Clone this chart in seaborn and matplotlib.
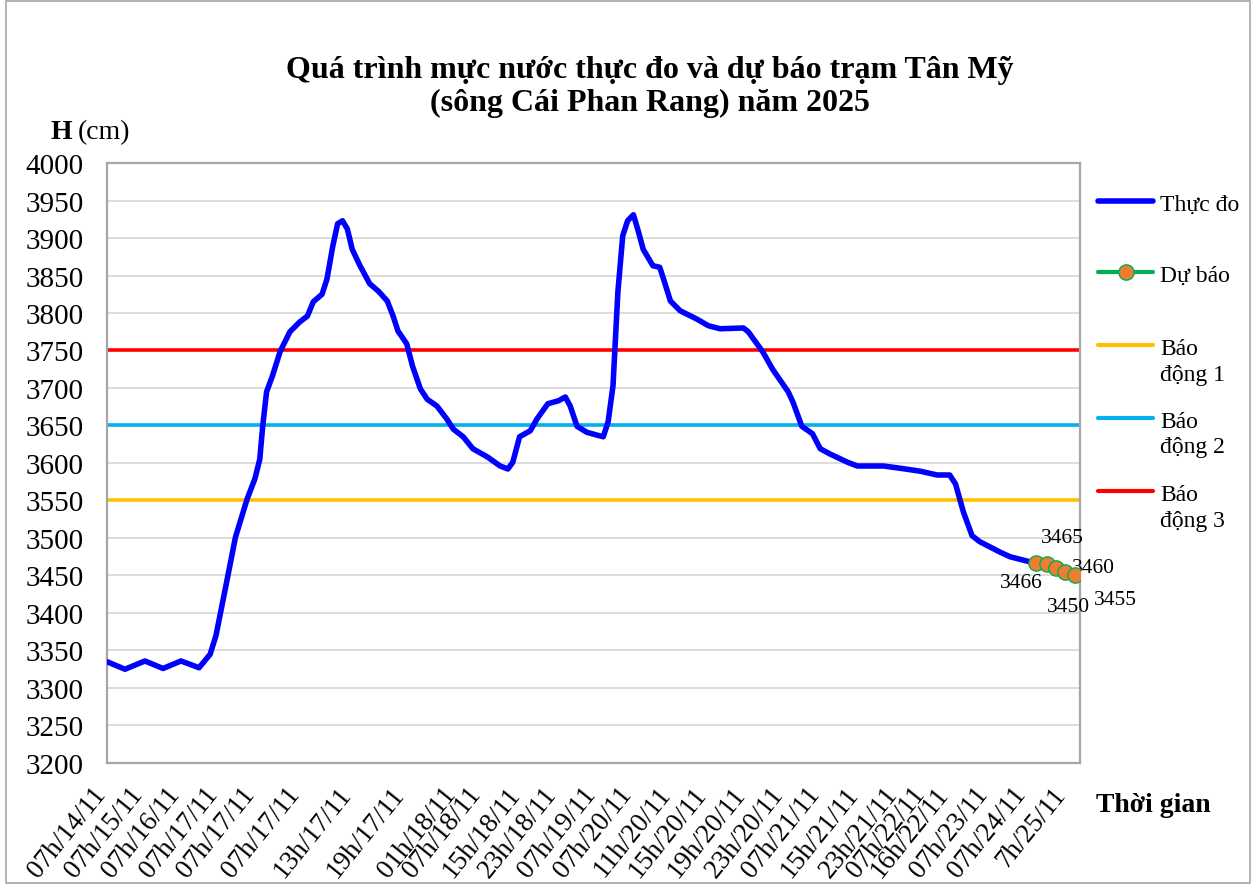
import numpy as np
import pandas as pd
import matplotlib.pyplot as plt
import seaborn as sns
from matplotlib.lines import Line2D
from matplotlib.patches import Rectangle

# vi tri tren truc (don vi 0..100, truc thoi gian dang category)
t_obs = [0, 1.85, 3.9, 5.76, 7.6, 9.46, 10.6, 11.2, 12.2, 13.2, 14.4, 15.2, 15.7, 16.0, 16.4,
         17.0, 17.8, 18.8, 19.8, 20.6, 21.2, 22.1, 22.6, 23.2, 23.7, 24.2, 24.7, 25.2, 26.0,
         27.0, 27.9, 28.8, 29.4, 29.9, 30.8, 31.4, 32.2, 32.9, 33.9, 34.9, 35.6, 36.6, 37.6,
         39.1, 40.4, 41.2, 41.7, 42.4, 43.5, 44.2, 45.3, 46.4, 47.1, 47.6, 48.3, 49.3, 50.4,
         51.0, 51.5, 52.0, 52.5, 53.0, 53.5, 54.1, 54.6, 55.1, 56.1, 56.8, 57.3, 57.9, 58.9,
         60.6, 61.8, 63.0, 65.4, 65.9, 67.4, 68.4, 70.0, 70.5, 71.4, 72.5, 73.3, 74.3, 76.1,
         77.1, 79.8, 81.5, 83.6, 85.3, 86.6, 87.2, 88.0, 88.9, 89.7, 91.8, 92.8, 94.9, 95.5]
h_obs = [3335, 3325, 3336, 3326, 3336, 3327, 3345, 3370, 3435, 3501, 3552, 3579, 3605, 3649, 3695,
         3716, 3749, 3775, 3788, 3796, 3815, 3825, 3845, 3889, 3919, 3923, 3912, 3885, 3863,
         3839, 3829, 3816, 3796, 3776, 3759, 3729, 3699, 3685, 3676, 3659, 3645, 3635, 3619,
         3608, 3596, 3592, 3601, 3635, 3643, 3659, 3679, 3683, 3688, 3676, 3649, 3641, 3637,
         3635, 3655, 3703, 3828, 3903, 3923, 3931, 3909, 3885, 3863, 3861, 3841, 3816, 3803,
         3792, 3783, 3779, 3780, 3775, 3748, 3725, 3695, 3681, 3649, 3639, 3619, 3612, 3601,
         3596, 3596, 3593, 3589, 3584, 3584, 3572, 3535, 3503, 3495, 3481, 3475, 3468, 3466]

t_fc = [95.5, 96.6, 97.5, 98.5, 99.5]
h_fc = [3466, 3465, 3460, 3455, 3450]

bd_levels = [3550, 3650, 3750]
bd_line1 = ['Báo', 'Báo', 'Báo']
bd_line2 = ['động 1', 'động 2', 'động 3']
bd_colors = ['#FFC000', '#00B0F0', '#FF0000']

tick_at = [0.1, 3.9, 7.7, 11.6, 15.4, 20.0, 25.3, 30.8, 36.0, 38.6, 42.7, 46.4, 50.4,
           54.1, 58.1, 61.8, 65.8, 69.7, 73.5, 77.4, 81.5, 84.3, 86.7, 90.7, 94.6, 98.7]
tick_lab = ['07h/14/11', '07h/15/11', '07h/16/11', '07h/17/11', '07h/17/11', '07h/17/11',
            '13h/17/11', '19h/17/11', '01h/18/11', '07h/18/11', '15h/18/11', '23h/18/11',
            '07h/19/11', '07h/20/11', '11h/20/11', '15h/20/11', '19h/20/11', '23h/20/11',
            '07h/21/11', '15h/21/11', '23h/21/11', '07h/22/11', '16h/22/11', '07h/23/11',
            '07h/24/11', '7h/25/11']

# lech nhan so lieu du bao (points)
lbl_off = [(-11, -14), (11, 19), (27, 0), (36, -20), (-5, -22)]

sns.set_theme(style='white')
plt.rcParams['font.family'] = ['Liberation Serif', 'DejaVu Serif']
plt.rcParams['text.color'] = 'black'
plt.rcParams['xtick.color'] = 'black'
plt.rcParams['ytick.color'] = 'black'

fig = plt.figure(figsize=(12.53, 8.87), dpi=100)
ax = fig.add_axes([0.0854, 0.1387, 0.7766, 0.6764])

obs = pd.DataFrame({'t': t_obs, 'h': h_obs})
fc = pd.DataFrame({'t': t_fc, 'h': h_fc})

for lv, c in zip(bd_levels, bd_colors):
    ax.axhline(lv, color=c, lw=2.6, zorder=2)

sns.lineplot(data=obs, x='t', y='h', ax=ax, color='#0000FF', lw=4, zorder=3,
             solid_joinstyle='round', solid_capstyle='round')
ax.plot(fc['t'], fc['h'], color='#00B050', lw=3, marker='o', markersize=11,
        markerfacecolor='#ED7D31', markeredgecolor='#00B050', markeredgewidth=1, zorder=4)

for (x, y), (dx, dy) in zip(zip(t_fc, h_fc), lbl_off):
    ax.annotate(str(y), (x, y), xytext=(dx, dy), textcoords='offset points',
                ha='center', va='center', fontsize=15.5, annotation_clip=False)

ax.set_yticks(range(3200, 4001, 50))
ax.set_xticks([])
# nhan truc thoi gian (xoay, neo o cuoi nhan)
for t, lab in zip(tick_at, tick_lab):
    ax.annotate(lab, (t, 0), xycoords=ax.get_xaxis_transform(), xytext=(-1, -22),
                textcoords='offset points', rotation=51, rotation_mode='anchor',
                ha='right', va='baseline', fontsize=19.5, annotation_clip=False)
ax.set_xlim(0, 100)
ax.set_ylim(3200, 4000)
ax.grid(axis='y', color='#D9D9D9', lw=1.3)
ax.set_axisbelow(True)
for s in ax.spines.values():
    s.set_color('#A6A6A6')
    s.set_linewidth(1.6)
ax.set_xlabel('')
ax.set_ylabel('')
ax.tick_params(axis='y', length=0, pad=17, labelsize=21)

fig.text(0.519, 0.902, 'Quá trình mực nước thực đo và dự báo trạm Tân Mỹ\n(sông Cái Phan Rang) năm 2025',
         ha='center', va='center', fontsize=23, fontweight='bold', linespacing=1.15)
fig.text(0.040, 0.851, 'H', ha='left', va='center', fontsize=20, fontweight='bold')
fig.text(0.062, 0.851, '(cm)', ha='left', va='center', fontsize=20)
fig.text(0.875, 0.092, 'Thời gian', ha='left', va='center', fontsize=20, fontweight='bold')

# chu giai
handles = [Line2D([], [], color='#0000FF', lw=4),
           Line2D([], [], color='#00B050', lw=3, marker='o', markersize=11,
                  markerfacecolor='#ED7D31', markeredgecolor='#00B050')]
handles += [Line2D([], [], color=c, lw=3) for c in bd_colors]
names = ['Thực đo', 'Dự báo'] + bd_line1
legend_y = [203, 274, 347, 420, 493]
for hd, nm, yy in zip(handles, names, legend_y):
    fig.legend([hd], [nm], loc='upper left', bbox_to_anchor=(1098 / 1253, 1 - (yy - 9) / 887),
               frameon=False, fontsize=17, handlelength=2.33, handletextpad=0.3,
               borderpad=0, borderaxespad=0)
for nm, yy in zip(bd_line2, legend_y[2:]):
    fig.text(1160 / 1253, 1 - (yy + 28) / 887, nm, ha='left', va='center', fontsize=17)

fig.add_artist(Rectangle((0.005, 0.003), 0.993, 0.995, transform=fig.transFigure,
                         fill=False, edgecolor='#A6A6A6', lw=1.2))

fig.savefig('out.png', dpi=100)
